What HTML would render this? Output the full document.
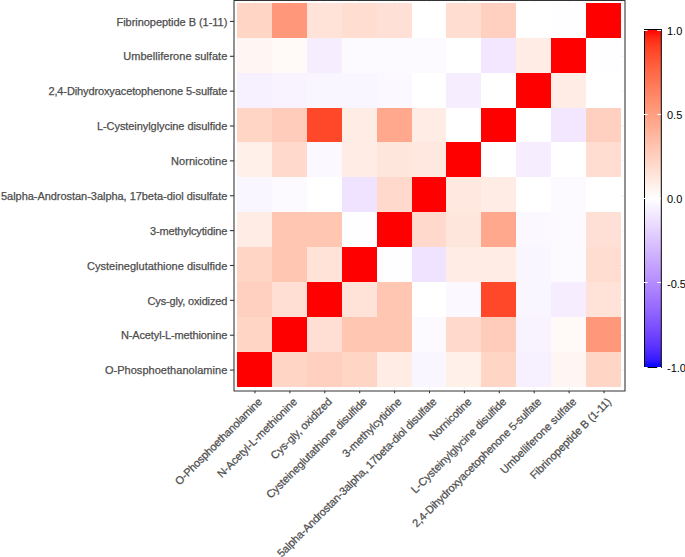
<!DOCTYPE html>
<html><head><meta charset="utf-8"><title>Correlation heatmap</title>
<style>html,body{margin:0;padding:0;background:#fff}</style></head>
<body>
<svg width="685" height="557" viewBox="0 0 685 557" style="display:block;font-family:'Liberation Sans',sans-serif">
<rect width="685" height="557" fill="#fff"/>
<g stroke="#EBEBEB" stroke-width="0.6">
<line x1="254.95" x2="254.95" y1="0.5" y2="391.0"/><line x1="234.0" x2="625.0" y1="21.42" y2="21.42"/>
<line x1="289.86" x2="289.86" y1="0.5" y2="391.0"/><line x1="234.0" x2="625.0" y1="56.29" y2="56.29"/>
<line x1="324.77" x2="324.77" y1="0.5" y2="391.0"/><line x1="234.0" x2="625.0" y1="91.15" y2="91.15"/>
<line x1="359.68" x2="359.68" y1="0.5" y2="391.0"/><line x1="234.0" x2="625.0" y1="126.02" y2="126.02"/>
<line x1="394.59" x2="394.59" y1="0.5" y2="391.0"/><line x1="234.0" x2="625.0" y1="160.88" y2="160.88"/>
<line x1="429.50" x2="429.50" y1="0.5" y2="391.0"/><line x1="234.0" x2="625.0" y1="195.75" y2="195.75"/>
<line x1="464.41" x2="464.41" y1="0.5" y2="391.0"/><line x1="234.0" x2="625.0" y1="230.62" y2="230.62"/>
<line x1="499.32" x2="499.32" y1="0.5" y2="391.0"/><line x1="234.0" x2="625.0" y1="265.48" y2="265.48"/>
<line x1="534.23" x2="534.23" y1="0.5" y2="391.0"/><line x1="234.0" x2="625.0" y1="300.35" y2="300.35"/>
<line x1="569.14" x2="569.14" y1="0.5" y2="391.0"/><line x1="234.0" x2="625.0" y1="335.21" y2="335.21"/>
<line x1="604.05" x2="604.05" y1="0.5" y2="391.0"/><line x1="234.0" x2="625.0" y1="370.08" y2="370.08"/>
</g>
<g shape-rendering="crispEdges">
<rect x="237" y="3" width="35" height="35" fill="#FFD5C6"/>
<rect x="272" y="3" width="35" height="35" fill="#FF987A"/>
<rect x="307" y="3" width="35" height="35" fill="#FFE2D8"/>
<rect x="342" y="3" width="35" height="35" fill="#FFDDD0"/>
<rect x="377" y="3" width="35" height="35" fill="#FFE0D6"/>
<rect x="412" y="3" width="34" height="35" fill="#FFFFFF"/>
<rect x="446" y="3" width="35" height="35" fill="#FFDDD0"/>
<rect x="481" y="3" width="35" height="35" fill="#FFCFBF"/>
<rect x="516" y="3" width="35" height="35" fill="#FFFFFF"/>
<rect x="551" y="3" width="35" height="35" fill="#FEFDFF"/>
<rect x="586" y="3" width="35" height="35" fill="#FF0000"/>
<rect x="237" y="38" width="35" height="35" fill="#FFF5F2"/>
<rect x="272" y="38" width="35" height="35" fill="#FFF9F7"/>
<rect x="307" y="38" width="35" height="35" fill="#F6EEFF"/>
<rect x="342" y="38" width="35" height="35" fill="#FCFAFF"/>
<rect x="377" y="38" width="35" height="35" fill="#FCFAFF"/>
<rect x="412" y="38" width="34" height="35" fill="#FCFAFF"/>
<rect x="446" y="38" width="35" height="35" fill="#FFFFFF"/>
<rect x="481" y="38" width="35" height="35" fill="#F2E7FF"/>
<rect x="516" y="38" width="35" height="35" fill="#FFECE5"/>
<rect x="551" y="38" width="35" height="35" fill="#FF0000"/>
<rect x="586" y="38" width="35" height="35" fill="#FEFDFF"/>
<rect x="237" y="73" width="35" height="35" fill="#F7F1FF"/>
<rect x="272" y="73" width="35" height="35" fill="#F8F3FF"/>
<rect x="307" y="73" width="35" height="35" fill="#FAF6FF"/>
<rect x="342" y="73" width="35" height="35" fill="#FAF6FF"/>
<rect x="377" y="73" width="35" height="35" fill="#FBF8FF"/>
<rect x="412" y="73" width="34" height="35" fill="#FFFFFF"/>
<rect x="446" y="73" width="35" height="35" fill="#F6EEFF"/>
<rect x="481" y="73" width="35" height="35" fill="#FFFFFF"/>
<rect x="516" y="73" width="35" height="35" fill="#FF0000"/>
<rect x="551" y="73" width="35" height="35" fill="#FFECE5"/>
<rect x="586" y="73" width="35" height="35" fill="#FFFFFF"/>
<rect x="237" y="108" width="35" height="34" fill="#FFD5C6"/>
<rect x="272" y="108" width="35" height="34" fill="#FFCBBA"/>
<rect x="307" y="108" width="35" height="34" fill="#FF4729"/>
<rect x="342" y="108" width="35" height="34" fill="#FFECE5"/>
<rect x="377" y="108" width="35" height="34" fill="#FFA88D"/>
<rect x="412" y="108" width="34" height="34" fill="#FFECE5"/>
<rect x="446" y="108" width="35" height="34" fill="#FFFFFF"/>
<rect x="481" y="108" width="35" height="34" fill="#FF0000"/>
<rect x="516" y="108" width="35" height="34" fill="#FFFFFF"/>
<rect x="551" y="108" width="35" height="34" fill="#F2E7FF"/>
<rect x="586" y="108" width="35" height="34" fill="#FFCFBF"/>
<rect x="237" y="142" width="35" height="35" fill="#FFF0EA"/>
<rect x="272" y="142" width="35" height="35" fill="#FFD9CB"/>
<rect x="307" y="142" width="35" height="35" fill="#FBF8FF"/>
<rect x="342" y="142" width="35" height="35" fill="#FFECE5"/>
<rect x="377" y="142" width="35" height="35" fill="#FFE6DD"/>
<rect x="412" y="142" width="34" height="35" fill="#FFE8E0"/>
<rect x="446" y="142" width="35" height="35" fill="#FF0000"/>
<rect x="481" y="142" width="35" height="35" fill="#FFFFFF"/>
<rect x="516" y="142" width="35" height="35" fill="#F6EEFF"/>
<rect x="551" y="142" width="35" height="35" fill="#FFFFFF"/>
<rect x="586" y="142" width="35" height="35" fill="#FFDDD0"/>
<rect x="237" y="177" width="35" height="35" fill="#FAF6FF"/>
<rect x="272" y="177" width="35" height="35" fill="#FCFAFF"/>
<rect x="307" y="177" width="35" height="35" fill="#FFFFFF"/>
<rect x="342" y="177" width="35" height="35" fill="#EFE3FF"/>
<rect x="377" y="177" width="35" height="35" fill="#FFD9CB"/>
<rect x="412" y="177" width="34" height="35" fill="#FF0000"/>
<rect x="446" y="177" width="35" height="35" fill="#FFE8E0"/>
<rect x="481" y="177" width="35" height="35" fill="#FFECE5"/>
<rect x="516" y="177" width="35" height="35" fill="#FFFFFF"/>
<rect x="551" y="177" width="35" height="35" fill="#FCFAFF"/>
<rect x="586" y="177" width="35" height="35" fill="#FFFFFF"/>
<rect x="237" y="212" width="35" height="35" fill="#FFECE5"/>
<rect x="272" y="212" width="35" height="35" fill="#FFC6B2"/>
<rect x="307" y="212" width="35" height="35" fill="#FFC6B2"/>
<rect x="342" y="212" width="35" height="35" fill="#FEFDFF"/>
<rect x="377" y="212" width="35" height="35" fill="#FF0000"/>
<rect x="412" y="212" width="34" height="35" fill="#FFD9CB"/>
<rect x="446" y="212" width="35" height="35" fill="#FFE6DD"/>
<rect x="481" y="212" width="35" height="35" fill="#FFA88D"/>
<rect x="516" y="212" width="35" height="35" fill="#FBF8FF"/>
<rect x="551" y="212" width="35" height="35" fill="#FCFAFF"/>
<rect x="586" y="212" width="35" height="35" fill="#FFE0D6"/>
<rect x="237" y="247" width="35" height="35" fill="#FFD5C6"/>
<rect x="272" y="247" width="35" height="35" fill="#FFC6B2"/>
<rect x="307" y="247" width="35" height="35" fill="#FFE2D8"/>
<rect x="342" y="247" width="35" height="35" fill="#FF0000"/>
<rect x="377" y="247" width="35" height="35" fill="#FEFDFF"/>
<rect x="412" y="247" width="34" height="35" fill="#EFE3FF"/>
<rect x="446" y="247" width="35" height="35" fill="#FFECE5"/>
<rect x="481" y="247" width="35" height="35" fill="#FFECE5"/>
<rect x="516" y="247" width="35" height="35" fill="#FAF6FF"/>
<rect x="551" y="247" width="35" height="35" fill="#FCFAFF"/>
<rect x="586" y="247" width="35" height="35" fill="#FFDDD0"/>
<rect x="237" y="282" width="35" height="35" fill="#FFCFBF"/>
<rect x="272" y="282" width="35" height="35" fill="#FFDFD3"/>
<rect x="307" y="282" width="35" height="35" fill="#FF0000"/>
<rect x="342" y="282" width="35" height="35" fill="#FFE2D8"/>
<rect x="377" y="282" width="35" height="35" fill="#FFC6B2"/>
<rect x="412" y="282" width="34" height="35" fill="#FFFFFF"/>
<rect x="446" y="282" width="35" height="35" fill="#FBF8FF"/>
<rect x="481" y="282" width="35" height="35" fill="#FF4729"/>
<rect x="516" y="282" width="35" height="35" fill="#FAF6FF"/>
<rect x="551" y="282" width="35" height="35" fill="#F6EEFF"/>
<rect x="586" y="282" width="35" height="35" fill="#FFE2D8"/>
<rect x="237" y="317" width="35" height="35" fill="#FFD5C6"/>
<rect x="272" y="317" width="35" height="35" fill="#FF0000"/>
<rect x="307" y="317" width="35" height="35" fill="#FFDFD3"/>
<rect x="342" y="317" width="35" height="35" fill="#FFC6B2"/>
<rect x="377" y="317" width="35" height="35" fill="#FFC6B2"/>
<rect x="412" y="317" width="34" height="35" fill="#FCFAFF"/>
<rect x="446" y="317" width="35" height="35" fill="#FFD9CB"/>
<rect x="481" y="317" width="35" height="35" fill="#FFCBBA"/>
<rect x="516" y="317" width="35" height="35" fill="#F8F3FF"/>
<rect x="551" y="317" width="35" height="35" fill="#FFF9F7"/>
<rect x="586" y="317" width="35" height="35" fill="#FF987A"/>
<rect x="237" y="352" width="35" height="35" fill="#FF0000"/>
<rect x="272" y="352" width="35" height="35" fill="#FFD5C6"/>
<rect x="307" y="352" width="35" height="35" fill="#FFCFBF"/>
<rect x="342" y="352" width="35" height="35" fill="#FFD5C6"/>
<rect x="377" y="352" width="35" height="35" fill="#FFECE5"/>
<rect x="412" y="352" width="34" height="35" fill="#FAF6FF"/>
<rect x="446" y="352" width="35" height="35" fill="#FFF0EA"/>
<rect x="481" y="352" width="35" height="35" fill="#FFD5C6"/>
<rect x="516" y="352" width="35" height="35" fill="#F7F1FF"/>
<rect x="551" y="352" width="35" height="35" fill="#FFF5F2"/>
<rect x="586" y="352" width="35" height="35" fill="#FFD5C6"/>
</g>
<rect x="234.0" y="0.5" width="391.0" height="390.5" fill="none" stroke="#333" stroke-width="1.07" stroke-linejoin="round"/>
<g stroke="#333" stroke-width="1.07">
<line x1="229.90" x2="234.0" y1="21.42" y2="21.42"/>
<line x1="229.90" x2="234.0" y1="56.29" y2="56.29"/>
<line x1="229.90" x2="234.0" y1="91.15" y2="91.15"/>
<line x1="229.90" x2="234.0" y1="126.02" y2="126.02"/>
<line x1="229.90" x2="234.0" y1="160.88" y2="160.88"/>
<line x1="229.90" x2="234.0" y1="195.75" y2="195.75"/>
<line x1="229.90" x2="234.0" y1="230.62" y2="230.62"/>
<line x1="229.90" x2="234.0" y1="265.48" y2="265.48"/>
<line x1="229.90" x2="234.0" y1="300.35" y2="300.35"/>
<line x1="229.90" x2="234.0" y1="335.21" y2="335.21"/>
<line x1="229.90" x2="234.0" y1="370.08" y2="370.08"/>
<line x1="254.95" x2="254.95" y1="391.0" y2="393.20"/>
<line x1="289.86" x2="289.86" y1="391.0" y2="393.20"/>
<line x1="324.77" x2="324.77" y1="391.0" y2="393.20"/>
<line x1="359.68" x2="359.68" y1="391.0" y2="393.20"/>
<line x1="394.59" x2="394.59" y1="391.0" y2="393.20"/>
<line x1="429.50" x2="429.50" y1="391.0" y2="393.20"/>
<line x1="464.41" x2="464.41" y1="391.0" y2="393.20"/>
<line x1="499.32" x2="499.32" y1="391.0" y2="393.20"/>
<line x1="534.23" x2="534.23" y1="391.0" y2="393.20"/>
<line x1="569.14" x2="569.14" y1="391.0" y2="393.20"/>
<line x1="604.05" x2="604.05" y1="391.0" y2="393.20"/>
</g>
<g font-size="11px" fill="#4D4D4D" stroke="#4D4D4D" stroke-width="0.25" text-anchor="end">
<text x="227.3" y="25.62" textLength="110.8" lengthAdjust="spacing">Fibrinopeptide B (1-11)</text>
<text x="227.3" y="60.49" textLength="104.1" lengthAdjust="spacing">Umbelliferone sulfate</text>
<text x="227.3" y="95.35" textLength="178.9" lengthAdjust="spacing">2,4-Dihydroxyacetophenone 5-sulfate</text>
<text x="227.3" y="130.22" textLength="130.4" lengthAdjust="spacing">L-Cysteinylglycine disulfide</text>
<text x="227.3" y="165.08" textLength="56.3" lengthAdjust="spacing">Nornicotine</text>
<text x="227.3" y="199.95" textLength="226.3" lengthAdjust="spacing">5alpha-Androstan-3alpha, 17beta-diol disulfate</text>
<text x="227.3" y="234.82" textLength="77.4" lengthAdjust="spacing">3-methylcytidine</text>
<text x="227.3" y="269.68" textLength="140.2" lengthAdjust="spacing">Cysteineglutathione disulfide</text>
<text x="227.3" y="304.55" textLength="79.8" lengthAdjust="spacing">Cys-gly, oxidized</text>
<text x="227.3" y="339.41" textLength="106.4" lengthAdjust="spacing">N-Acetyl-L-methionine</text>
<text x="227.3" y="374.28" textLength="122.4" lengthAdjust="spacing">O-Phosphoethanolamine</text>
</g>
<g font-size="11px" fill="#4D4D4D" stroke="#4D4D4D" stroke-width="0.25" text-anchor="end">
<text transform="translate(257.15,396.7) rotate(-45)" x="0" y="8" textLength="117.8" lengthAdjust="spacing">O-Phosphoethanolamine</text>
<text transform="translate(292.06,396.7) rotate(-45)" x="0" y="8" textLength="107.4" lengthAdjust="spacing">N-Acetyl-L-methionine</text>
<text transform="translate(326.97,396.7) rotate(-45)" x="0" y="8" textLength="81.4" lengthAdjust="spacing">Cys-gly, oxidized</text>
<text transform="translate(361.88,396.7) rotate(-45)" x="0" y="8" textLength="136.8" lengthAdjust="spacing">Cysteineglutathione disulfide</text>
<text transform="translate(396.79,396.7) rotate(-45)" x="0" y="8" textLength="78.8" lengthAdjust="spacing">3-methylcytidine</text>
<text transform="translate(431.70,396.7) rotate(-45)" x="0" y="8" textLength="219.9" lengthAdjust="spacing">5alpha-Androstan-3alpha, 17beta-diol disulfate</text>
<text transform="translate(466.61,396.7) rotate(-45)" x="0" y="8" textLength="54.8" lengthAdjust="spacing">Nornicotine</text>
<text transform="translate(501.52,396.7) rotate(-45)" x="0" y="8" textLength="129.5" lengthAdjust="spacing">L-Cysteinylglycine disulfide</text>
<text transform="translate(536.43,396.7) rotate(-45)" x="0" y="8" textLength="177.3" lengthAdjust="spacing">2,4-Dihydroxyacetophenone 5-sulfate</text>
<text transform="translate(571.34,396.7) rotate(-45)" x="0" y="8" textLength="102.2" lengthAdjust="spacing">Umbelliferone sulfate</text>
<text transform="translate(606.25,396.7) rotate(-45)" x="0" y="8" textLength="109.6" lengthAdjust="spacing">Fibrinopeptide B (1-11)</text>
</g>
<defs><linearGradient id="cb" x1="0" y1="0" x2="0" y2="1">
<stop offset="0.0000" stop-color="#FF0000"/>
<stop offset="0.0250" stop-color="#FF2913"/>
<stop offset="0.0500" stop-color="#FF3E22"/>
<stop offset="0.0750" stop-color="#FF4D2E"/>
<stop offset="0.1000" stop-color="#FF5B3A"/>
<stop offset="0.1250" stop-color="#FF6846"/>
<stop offset="0.1500" stop-color="#FF7352"/>
<stop offset="0.1750" stop-color="#FF7E5E"/>
<stop offset="0.2000" stop-color="#FF8969"/>
<stop offset="0.2250" stop-color="#FF9475"/>
<stop offset="0.2500" stop-color="#FF9E81"/>
<stop offset="0.2750" stop-color="#FFA88D"/>
<stop offset="0.3000" stop-color="#FFB299"/>
<stop offset="0.3250" stop-color="#FFBCA6"/>
<stop offset="0.3500" stop-color="#FFC6B2"/>
<stop offset="0.3750" stop-color="#FFCFBF"/>
<stop offset="0.4000" stop-color="#FFD9CB"/>
<stop offset="0.4250" stop-color="#FFE2D8"/>
<stop offset="0.4500" stop-color="#FFECE5"/>
<stop offset="0.4750" stop-color="#FFF5F2"/>
<stop offset="0.5000" stop-color="#FFFFFF"/>
<stop offset="0.5250" stop-color="#F8F3FF"/>
<stop offset="0.5500" stop-color="#F2E7FF"/>
<stop offset="0.5750" stop-color="#EBDCFF"/>
<stop offset="0.6000" stop-color="#E3D0FF"/>
<stop offset="0.6250" stop-color="#DCC4FF"/>
<stop offset="0.6500" stop-color="#D4B9FF"/>
<stop offset="0.6750" stop-color="#CCADFF"/>
<stop offset="0.7000" stop-color="#C4A2FF"/>
<stop offset="0.7250" stop-color="#BC97FF"/>
<stop offset="0.7500" stop-color="#B38BFF"/>
<stop offset="0.7750" stop-color="#AA80FF"/>
<stop offset="0.8000" stop-color="#A074FF"/>
<stop offset="0.8250" stop-color="#9569FF"/>
<stop offset="0.8500" stop-color="#8A5DFF"/>
<stop offset="0.8750" stop-color="#7E52FF"/>
<stop offset="0.9000" stop-color="#7145FF"/>
<stop offset="0.9250" stop-color="#6239FF"/>
<stop offset="0.9500" stop-color="#502BFF"/>
<stop offset="0.9750" stop-color="#381BFF"/>
<stop offset="1.0000" stop-color="#0000FF"/>
</linearGradient></defs>
<rect x="644.5" y="29.5" width="16.799999999999955" height="338.0" fill="url(#cb)" stroke="#000" stroke-width="1"/>
<g stroke="#fff" stroke-width="1">
<line x1="644" x2="647.6" y1="30.5" y2="30.5"/><line x1="657.2" x2="661" y1="30.5" y2="30.5"/>
<line x1="644" x2="647.6" y1="114.5" y2="114.5"/><line x1="657.2" x2="661" y1="114.5" y2="114.5"/>
<line x1="644" x2="647.6" y1="198.5" y2="198.5"/><line x1="657.2" x2="661" y1="198.5" y2="198.5"/>
<line x1="644" x2="647.6" y1="282.5" y2="282.5"/><line x1="657.2" x2="661" y1="282.5" y2="282.5"/>
<line x1="644" x2="647.6" y1="367.5" y2="367.5"/><line x1="657.2" x2="661" y1="367.5" y2="367.5"/>
</g>
<g font-size="11px" fill="#000" text-anchor="start">
<text x="667" y="34.70">1.0</text>
<text x="667" y="118.90">0.5</text>
<text x="667" y="202.70">0.0</text>
<text x="667" y="287.60">-0.5</text>
<text x="667" y="371.70">-1.0</text>
</g>
</svg>
</body></html>
